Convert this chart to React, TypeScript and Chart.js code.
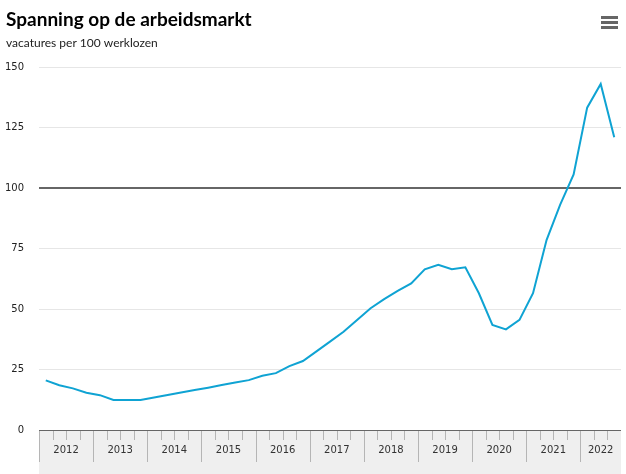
import React, { useEffect, useRef } from "react";
import { Chart, registerables } from "chart.js";

Chart.register(...registerables);

const TITLE = "Spanning op de arbeidsmarkt";
const SUBTITLE = "vacatures per 100 werklozen";
const YEARS = ["2012", "2013", "2014", "2015", "2016", "2017", "2018", "2019", "2020", "2021", "2022"];
const QUARTERS = ["1e kwartaal", "2e kwartaal", "3e kwartaal", "4e kwartaal"];
const VALUES = [
  20.5, 18.5, 17.2, 15.4,
  14.4, 12.4, 12.4, 12.4,
  13.4, 14.5, 15.5, 16.5,
  17.5, 18.6, 19.6, 20.6,
  22.4, 23.5, 26.4, 28.5,
  32.5, 36.5, 40.6, 45.5,
  50.3, 54.1, 57.5, 60.6,
  66.4, 68.3, 66.4, 67.2,
  56.5, 43.4, 41.6, 45.5,
  56.5, 78.5, 93, 105.6,
  133.2, 143, 121,
];
const Y_TICKS = [0, 25, 50, 75, 100, 125, 150];
const REFERENCE_VALUE = 100;

const LABELS: string[] = [];
YEARS.forEach((y) => QUARTERS.forEach((q) => LABELS.push(y + " " + q)));
LABELS.length = VALUES.length;

const decorPlugin = {
  id: "decor",
  afterDraw(chart: any) {
    const { ctx, chartArea, scales } = chart;
    const x = scales.x;
    const top = chartArea.bottom;
    const H = chart.height;
    ctx.save();
    // axis band
    ctx.fillStyle = "#efefef";
    ctx.fillRect(chartArea.left, top, chartArea.right - chartArea.left, H - top);
    const half = (x.getPixelForValue(1) - x.getPixelForValue(0)) / 2;
    // quarter ticks
    ctx.strokeStyle = "#b5b5b5";
    ctx.lineWidth = 1;
    for (let i = 0; i < VALUES.length; i++) {
      const px = Math.round(x.getPixelForValue(i) - half) + 0.5;
      const isYear = i % 4 === 0;
      ctx.beginPath();
      ctx.moveTo(px, top);
      ctx.lineTo(px, top + (isYear ? 32 : 10));
      ctx.stroke();
    }
    // year labels
    ctx.fillStyle = "#333";
    ctx.font = "10px 'DejaVu Sans'";
    ctx.textAlign = "center";
    ctx.textBaseline = "middle";
    YEARS.forEach((y, yi) => {
      const a = yi * 4;
      const b = Math.min(a + 3, VALUES.length - 1);
      if (a >= VALUES.length) return;
      const cx = (x.getPixelForValue(a) - half + x.getPixelForValue(b) + half) / 2;
      ctx.fillText(y, cx, top + 20);
    });
    // axis line
    ctx.strokeStyle = "#666";
    ctx.beginPath();
    ctx.moveTo(chartArea.left, top + 0.5);
    ctx.lineTo(chartArea.right, top + 0.5);
    ctx.stroke();
    // titles
    ctx.textAlign = "left";
    ctx.textBaseline = "alphabetic";
    ctx.fillStyle = "#000";
    ctx.font = "bold 19px Lato";
    ctx.fillText(TITLE, 6, 26);
    ctx.fillStyle = "#222";
    ctx.font = "12px Lato";
    ctx.fillText(SUBTITLE, 6, 47);
    // menu icon
    ctx.fillStyle = "#666";
    for (let k = 0; k < 3; k++) {
      ctx.fillRect(601, 16 + k * 5, 17, 3);
    }
    ctx.restore();
  },
};

export default function App() {
  const ref = useRef<HTMLCanvasElement>(null);
  useEffect(() => {
    document.body.style.margin = "0";
    const chart = new Chart(ref.current!, {
      type: "line",
      data: {
        labels: LABELS,
        datasets: [
          {
            data: VALUES,
            borderColor: "#0fa3d3",
            borderWidth: 2,
            pointRadius: 0,
            tension: 0,
            fill: false,
          },
        ],
      },
      options: {
        animation: false,
        responsive: false,
        layout: { padding: { top: 67, right: 5, left: 0, bottom: 0 } },
        plugins: { legend: { display: false }, tooltip: { enabled: false }, title: { display: false } },
        scales: {
          x: {
            offset: true,
            grid: { display: false },
            border: { display: false },
            ticks: { display: false },
            afterFit(s: any) {
              s.height = 44;
            },
          },
          y: {
            min: 0,
            max: 150,
            afterBuildTicks(s: any) {
              s.ticks = Y_TICKS.map((v) => ({ value: v }));
            },
            border: { display: false },
            grid: {
              drawTicks: false,
              color: (c: any) => (c.tick && c.tick.value === REFERENCE_VALUE ? "#666" : "#e6e6e6"),
              lineWidth: (c: any) => (c.tick && c.tick.value === REFERENCE_VALUE ? 2 : 1),
            },
            ticks: {
              padding: 15,
              color: "#222",
              font: { family: "'DejaVu Sans'", size: 10 },
            },
            afterFit(s: any) {
              s.width = 39;
            },
          },
        },
      },
      plugins: [decorPlugin],
    });
    return () => chart.destroy();
  }, []);
  return <canvas ref={ref} width={626} height={474} style={{ display: "block", width: 626, height: 474 }} />;
}
